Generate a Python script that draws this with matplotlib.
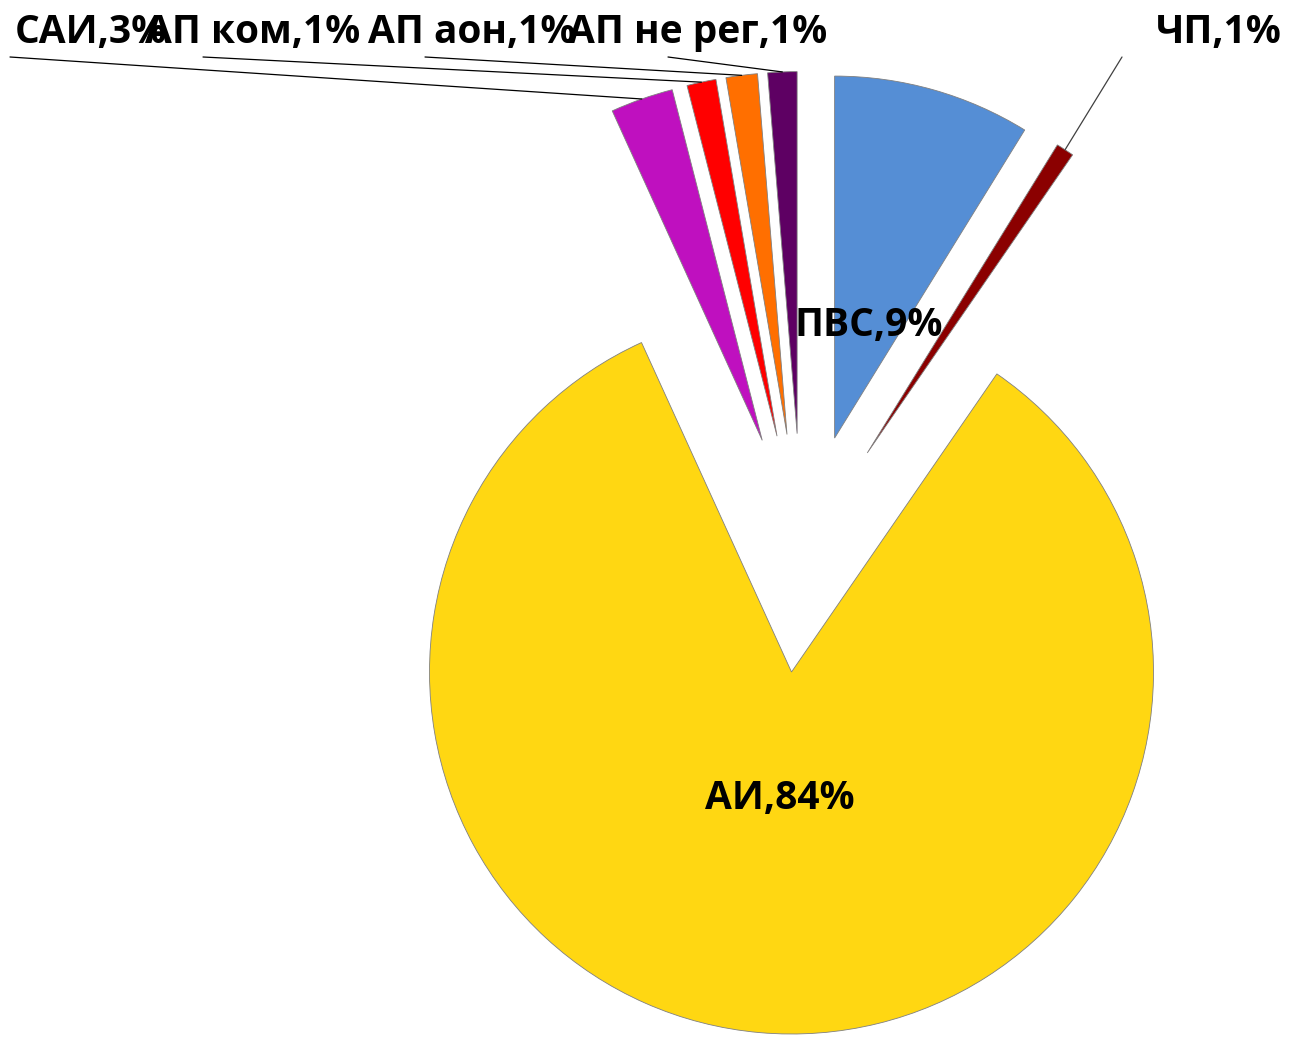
import numpy as np
import matplotlib
matplotlib.use("Agg")
import matplotlib.pyplot as plt

categories = ["ПВС", "ЧП", "АИ", "САИ", "АП ком", "АП аон", "АП не рег"]
values = [8.8, 0.8, 83.6, 2.8, 1.3, 1.4, 1.3]
pct_labels = ["9%", "1%", "84%", "3%", "1%", "1%", "1%"]
colors = ["#558ED5", "#8B0000", "#FFD712", "#BF10BF", "#FF0000", "#FF6F00", "#5E0063"]

W, H = 1290, 1039
fig = plt.figure(figsize=(W / 100, H / 100), dpi=100)
ax = fig.add_axes([0, 0, 1, 1])

R = 362.0            # pie radius in pixels
cx, cy = 802, 553    # pie centre in pixels (from top-left)

explode = [0.33] * len(values)
wedges, _ = ax.pie(values, colors=colors, startangle=90, counterclock=False,
                   explode=explode, radius=1.0, center=(0, 0), frame=True,
                   wedgeprops=dict(edgecolor="#808080", linewidth=0.6))
ax.set_xlim(-cx / R, (W - cx) / R)
ax.set_ylim(-(H - cy) / R, cy / R)
ax.set_aspect("auto")
ax.axis("off")

font = dict(family=["Open Sans", "DejaVu Sans"], fontweight="bold",
            fontsize=28, color="black")

def px(xp, yp):
    return xp / W, 1 - yp / H

# inside labels
for i, (xp, yp) in {2: (780, 799), 0: (869, 325)}.items():
    fx, fy = px(xp, yp)
    ax.text(fx, fy, f"{categories[i]},{pct_labels[i]}", transform=ax.transAxes,
            ha="center", va="center", **font)

# outside labels: (index, text left x, text centre y, leader start x, leader start y)
outside = [
    (3, 15, 32, 10, 57),
    (4, 145, 32, 203, 57),
    (5, 368, 32, 425, 57),
    (6, 568, 32, 668, 57),
    (1, 1156, 32, 1122, 57),
]
for i, lx, ly, sx, sy in outside:
    fx, fy = px(lx, ly)
    ax.text(fx, fy, f"{categories[i]},{pct_labels[i]}", transform=ax.transAxes,
            ha="left", va="center", **font)
    w = wedges[i]
    mid = np.deg2rad((w.theta1 + w.theta2) / 2)
    ex, ey = w.center[0] + w.r * np.cos(mid), w.center[1] + w.r * np.sin(mid)
    lc = "#404040" if i == 1 else "black"
    ax.annotate("", xy=(ex, ey), xycoords="data", xytext=px(sx, sy),
                textcoords="axes fraction",
                arrowprops=dict(arrowstyle="-", color=lc, lw=0.9,
                                shrinkA=0, shrinkB=0))

fig.savefig("out.png", dpi=100)
